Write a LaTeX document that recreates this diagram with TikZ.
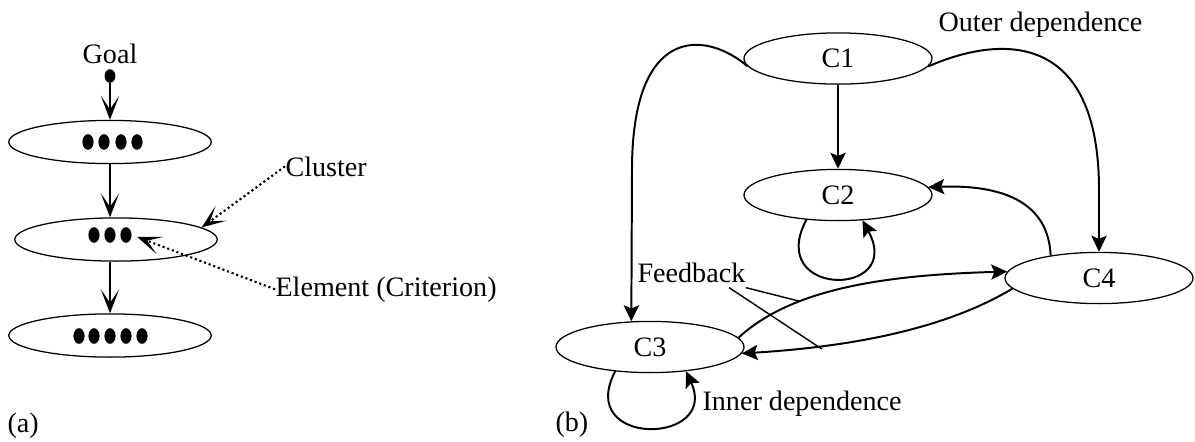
\documentclass[tikz,border=0pt]{standalone}
\usepackage{fontspec}
\setmainfont{Liberation Serif}
\usetikzlibrary{arrows.meta,shapes.geometric}

\begin{document}
\begin{tikzpicture}[
    x=0.0125cm, y=-0.0125cm,
    cluster/.style={draw, ellipse, line width=0.45pt, inner sep=0pt, minimum width=2.53cm, minimum height=0.54cm},
    crit/.style={fill, ellipse, inner sep=0pt, minimum width=1.4mm, minimum height=1.95mm},
    comp/.style={draw, ellipse, line width=0.45pt, inner sep=0pt, minimum width=2.35cm, minimum height=0.64cm},
    lbl/.style={inner sep=0pt, anchor=base west},
    hier/.style={-{Stealth[length=3mm, width=2.3mm, inset=1.7mm]}, line width=0.75pt},
    pointer/.style={hier, densely dotted},
    dep/.style={-{Stealth[length=2mm, width=1.9mm, inset=0.4mm]}, line width=0.7pt},
    note/.style={line width=0.5pt}
  ]
    \useasboundingbox (0,0) rectangle (1195,441);

    \node[lbl, anchor=base] (goal) at (110,63) {Goal};
    \node[crit, minimum width=1.35mm, minimum height=1.7mm] (goaldot) at (110,76) {};
    \node[cluster] (cl1) at (110,142) {};
    \node[cluster] (cl2) at (116,239.5) {};
    \node[cluster] (cl3) at (110,335.5) {};
    \foreach \i/\x in {1/88,2/104,3/121,4/137}
      \node[crit] (e1\i) at (\x,142) {};
    \foreach \i/\x in {1/94,2/110,3/126}
      \node[crit] (e2\i) at (\x,235) {};
    \foreach \i/\x in {1/79,2/94,3/110,4/126,5/142}
      \node[crit] (e3\i) at (\x,336) {};
    \draw[hier] (goaldot) -- (cl1);
    \draw[hier] (cl1.south) -- (cl1.south |- cl2.north);
    \draw[hier] (cl3.north |- cl2.south) -- (cl3.north);

    \node[lbl] (clusterlbl) at (285,176) {Cluster};
    \node[lbl] (elemlbl) at (275,296) {Element (Criterion)};
    \draw[pointer] (clusterlbl.west) -- (cl2.8);
    \draw[pointer, shorten >=0.7mm] (elemlbl.west) -- (e23.east);
    \node[lbl] (pa) at (7,432) {(a)};

    \node[comp] (c1) at (838,58.5) {C1};
    \node[comp] (c2) at (838,195) {C2};
    \node[comp] (c3) at (650,347) {C3};
    \node[comp] (c4) at (1099,278) {C4};
    \draw[dep] (c1) -- (c2);
    \draw[dep] (c1.185) .. controls (705,30) and (632,25) .. (632,170) -- (c3.126);
    \draw[dep] (c1.355) .. controls (1000,35) and (1099,30) .. (1099,190) -- (c4.north);
    \draw[dep] (c4.155) .. controls (1048,195) and (990,185) .. (c2.5);
    \draw[dep] (c3.6) .. controls (790,290) and (880,275) .. (c4.176) coordinate[pos=0.32] (fbup);
    \draw[dep] (c4.187) .. controls (960,320) and (880,345) .. (c3.356) coordinate[pos=0.8] (fbdown);
    \draw[dep] (c2.218) .. controls (765,298) and (905,298) .. (c2.314);
    \draw[dep] (c3.215) .. controls (575,448) and (720,445) .. (c3.326);

    \node[lbl] (outer) at (938,31) {Outer dependence};
    \node[lbl] (inner) at (702,410) {Inner dependence};
    \node[lbl] (fb) at (637,282) {Feedback};
    \draw[note] ([yshift=-0.6mm]fb.south east) -- (fbup);
    \draw[note, shorten >=-0.6mm] ([xshift=-2.1mm, yshift=-0.6mm]fb.south east) -- (fbdown);
    \node[lbl] (pb) at (555,431) {(b)};
  \end{tikzpicture}
\end{document}
